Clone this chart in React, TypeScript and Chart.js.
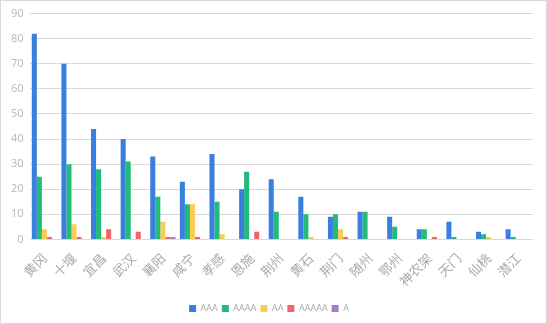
import React, { useEffect, useRef } from "react";
import { Chart, registerables } from "chart.js";

Chart.register(...registerables);

const categories = ["黄冈", "十堰", "宜昌", "武汉", "襄阳", "咸宁", "孝感", "恩施", "荆州", "黄石", "荆门", "随州", "鄂州", "神农架", "天门", "仙桃", "潜江"];
const seriesAAA = [82, 70, 44, 40, 33, 23, 34, 20, 24, 17, 9, 11, 9, 4, 7, 3, 4];
const seriesAAAA = [25, 30, 28, 31, 17, 14, 15, 27, 11, 10, 10, 11, 5, 4, 1, 2, 1];
const seriesAA = [4, 6, 1, 0, 7, 14, 2, 0, 0, 1, 4, 0, 0, 0, 0, 1, 0];
const seriesAAAAA = [1, 1, 4, 3, 1, 1, 0, 3, 0, 0, 1, 0, 0, 1, 0, 0, 0];
const seriesA = [0, 0, 0, 0, 1, 0, 0, 0, 0, 0, 0, 0, 0, 0, 0, 0, 0];
const seriesNames = ["AAA", "AAAA", "AA", "AAAAA", "A"];
const colors = ["#3a7fdd", "#22bb77", "#f9cd55", "#ee6666", "#a97ccb"];

export default function App() {
  const ref = useRef<HTMLCanvasElement>(null);
  useEffect(() => {
    document.body.style.margin = "0";
    const data = [seriesAAA, seriesAAAA, seriesAA, seriesAAAAA, seriesA];
    const chart = new Chart(ref.current!, {
      type: "bar",
      data: {
        labels: categories,
        datasets: seriesNames.map((n, i) => ({
          label: n,
          data: data[i],
          backgroundColor: colors[i],
          borderWidth: 0,
          barPercentage: 1,
          categoryPercentage: 0.85,
        })),
      },
      options: {
        animation: false,
        responsive: false,
        layout: { padding: { top: 12, right: 13, left: 4, bottom: 0 } },
        plugins: {
          tooltip: { enabled: false },
          legend: {
            position: "bottom",
            labels: {
              boxWidth: 7,
              boxHeight: 7,
              padding: 4,
              color: "#aaaaaa",
              font: { size: 9, family: "'Noto Sans', sans-serif" },
            },
          },
        },
        scales: {
          x: {
            grid: { display: false },
            border: { display: false },
            afterFit: (s: any) => {
              s.height += 8;
            },
            ticks: {
              color: "#aaaaaa",
              maxRotation: 45,
              minRotation: 45,
              autoSkip: false,
              font: { size: 13, family: "'Noto Sans CJK SC', sans-serif" },
            },
          },
          y: {
            min: 0,
            max: 90,
            ticks: {
              stepSize: 10,
              color: "#bbbbbb",
              font: { size: 11, family: "'Noto Sans', sans-serif" },
              padding: 6,
            },
            grid: { color: "#d9d9d9", drawTicks: false, lineWidth: 1 },
            border: { display: false },
          },
        },
      },
    });
    return () => chart.destroy();
  }, []);
  return (
    <div
      style={{
        position: "fixed",
        left: 0,
        top: 0,
        width: 547,
        height: 324,
        boxSizing: "border-box",
        border: "1px solid #d9d9d9",
        background: "#fff",
      }}
    >
      <canvas ref={ref} width={545} height={322} style={{ display: "block" }} />
    </div>
  );
}
